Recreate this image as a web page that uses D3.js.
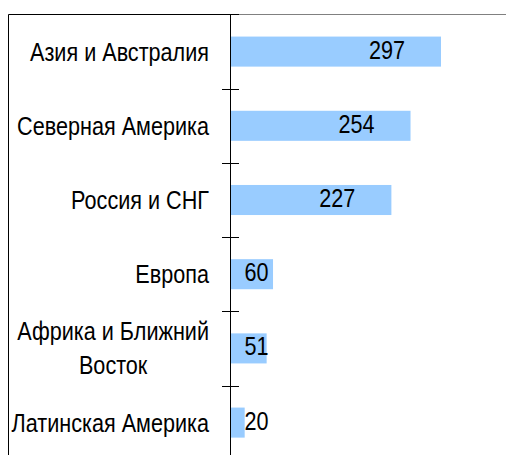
<!DOCTYPE html>
<html lang="ru">
<head>
<meta charset="UTF-8">
<title>Регионы</title>
<script src="https://d3js.org/d3.v7.min.js"></script>
<style>
  body { margin: 0; background: #fff; }
  text { font-family: "Liberation Sans", Arial, sans-serif; fill: #000; }
</style>
</head>
<body>
<script>
const width = 506, height = 455;

const categories = ["Азия и Австралия", "Северная Америка", "Россия и СНГ", "Европа", "Африка и Ближний Восток", "Латинская Америка"];
const values = [297, 254, 227, 60, 51, 20];
// line breaks used for category labels
const labelLines = [["Азия и Австралия"], ["Северная Америка"], ["Россия и СНГ"], ["Европа"], ["Африка и Ближний", "Восток"], ["Латинская Америка"]];

const fontSize = 25, squeeze = 0.865;

const svg = d3.select("body").append("svg")
  .attr("width", width)
  .attr("height", height);

const y = d3.scaleBand()
  .domain(categories)
  .range([14.5, 14.5 + 6 * 74.2])
  .paddingInner(0.595)
  .paddingOuter(0.2975);

const x = d3.scaleLinear()
  .domain([0, 297])
  .range([230.5, 441]);

// frame
svg.append("line").attr("x1", 8.5).attr("x2", 8.5).attr("y1", 14.5).attr("y2", height)
  .attr("stroke", "#000");
svg.append("line").attr("x1", 8.5).attr("x2", 239).attr("y1", 14.5).attr("y2", 14.5)
  .attr("stroke", "#000");
svg.append("line").attr("x1", 239).attr("x2", width).attr("y1", 14.5).attr("y2", 14.5)
  .attr("stroke", "#808080");

// bars
svg.selectAll("rect.bar")
  .data(values)
  .enter()
  .append("rect")
  .attr("class", "bar")
  .attr("x", x(0) + 0.5)
  .attr("y", (d, i) => y(categories[i]))
  .attr("width", d => x(d) - x(0) - 0.5)
  .attr("height", y.bandwidth())
  .attr("fill", "#99CCFF");

// axis line and ticks between categories
svg.append("line").attr("x1", x(0)).attr("x2", x(0)).attr("y1", 14.5).attr("y2", height)
  .attr("stroke", "#000");
const step = y.step();
svg.selectAll("line.tick")
  .data(categories.slice(1))
  .enter()
  .append("line")
  .attr("class", "tick")
  .attr("x1", 222).attr("x2", 239)
  .attr("y1", d => Math.round(y(d) - step * y.paddingInner() / 2) + 0.5)
  .attr("y2", d => Math.round(y(d) - step * y.paddingInner() / 2) + 0.5)
  .attr("stroke", "#000");

function squeezedText(g, tx, ty, str, anchor) {
  return g.append("text")
    .attr("transform", `translate(${tx},${ty}) scale(${squeeze},1)`)
    .attr("text-anchor", anchor)
    .attr("font-size", fontSize)
    .text(str);
}

// category labels
labelLines.forEach((lines, i) => {
  const cy = y(categories[i]) + y.bandwidth() / 2;
  if (lines.length === 1) {
    squeezedText(svg, 209, cy + 9, lines[0], "end");
  } else {
    const tmp = squeezedText(svg, 0, -100, lines[0], "start");
    const w = d3.max(lines, l => { tmp.text(l); return tmp.node().getComputedTextLength(); }) * squeeze;
    tmp.remove();
    const mid = 209 - w / 2;
    lines.forEach((l, k) => {
      squeezedText(svg, mid, cy + 9 + (k - (lines.length - 1) / 2) * 34, l, "middle");
    });
  }
});

// value labels
values.forEach((v, i) => {
  const cy = y(categories[i]) + y.bandwidth() / 2;
  const tx = Math.max(x(v) - 36, x(0) + 38);
  squeezedText(svg, tx, cy + 7, v, "end");
});
</script>
</body>
</html>
